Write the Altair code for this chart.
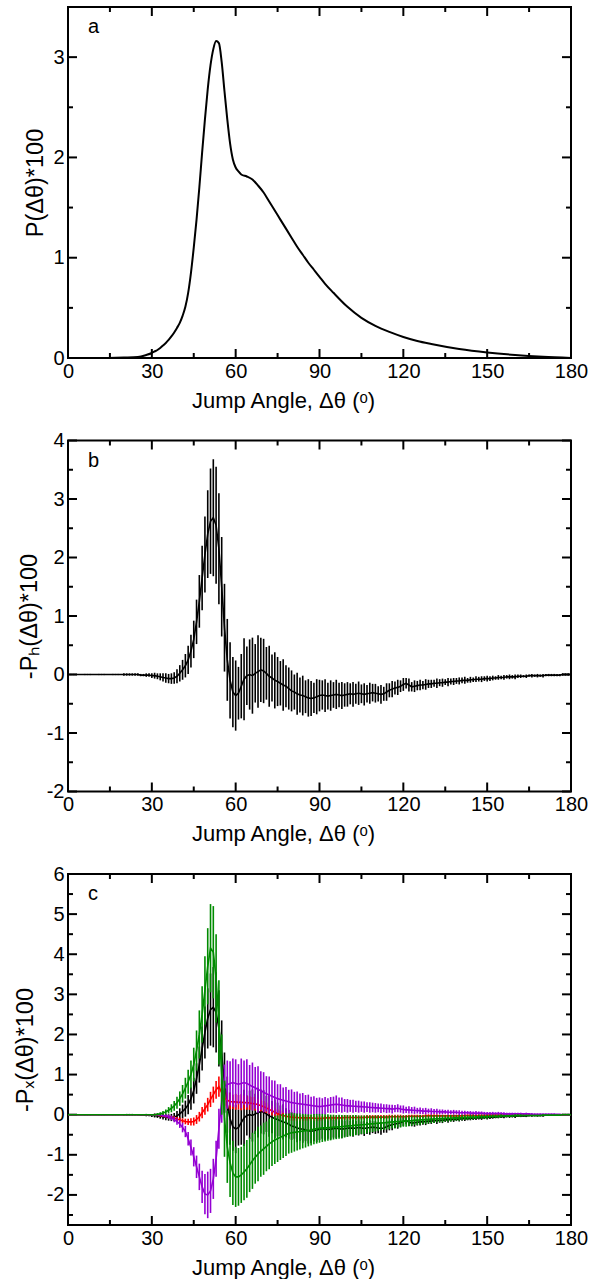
import altair as alt
import pandas as pd

# ---------------- data ----------------
ANGLES = list(range(0, 181))

# panel a: P(dtheta)*100
A_X = [0, 10, 20, 25, 28, 30, 31, 32, 33, 34, 35, 36, 37, 38, 39, 40, 41, 42, 43, 44,
       45, 46, 47, 48, 49, 50, 51, 52, 53, 54, 55, 56, 57, 58, 59, 60, 61, 62, 64, 66,
       68, 70, 72, 74, 76, 78, 80, 82, 84, 86, 88, 90, 92, 95, 100, 105, 110, 115, 120, 125,
       130, 140, 150, 160, 170, 180]
A_Y = [0, 0, 0.005, 0.01, 0.03, 0.05, 0.065, 0.08, 0.1, 0.125, 0.15, 0.18, 0.215, 0.255, 0.3, 0.35, 0.42, 0.51, 0.65, 0.85,
       1.1, 1.38, 1.7, 2.05, 2.38, 2.68, 2.92, 3.08, 3.16, 3.14, 2.95, 2.66, 2.38, 2.14, 1.98, 1.9, 1.86, 1.83, 1.81, 1.78,
       1.72, 1.65, 1.56, 1.47, 1.38, 1.29, 1.2, 1.11, 1.03, 0.95, 0.88, 0.81, 0.74, 0.65, 0.51, 0.4, 0.32, 0.26, 0.21, 0.17,
       0.14, 0.09, 0.055, 0.03, 0.012, 0.0]

# panel b (and black curve of panel c): -P_H*100, value and error half-width per degree
PH_MID = [0]*26 + [-.01, -.01, -.01, -.01,
          -.02, -.02, -.03, -.04, -.05, -.06, -.07, -.07, -.06, -.03,
          .02, .08, .15, .25, .4, .6, .9, 1.25, 1.65, 2.05,
          2.4, 2.62, 2.68, 2.55, 2.15, 1.5, .8, .25, -.1, -.3,
          -.36, -.32, -.2, -.08, -.02, 0, -.02, .02, .05, .08,
          .06, .02, -.03, -.06, -.1, -.12, -.15, -.18, -.2, -.24,
          -.28, -.3, -.33, -.35, -.36, -.38, -.4, -.41, -.4, -.38,
          -.36, -.35, -.36, -.37, -.36, -.35, -.34, -.35, -.36, -.35,
          -.34, -.33, -.34, -.33, -.32, -.33, -.34, -.33, -.32, -.31,
          -.32, -.33, -.34, -.33, -.3, -.27, -.25, -.23, -.22, -.2,
          -.17, -.15, -.18, -.21, -.2, -.19, -.18, -.18, -.17, -.16,
          -.16, -.15, -.15, -.14, -.14, -.13, -.13, -.12, -.12, -.11,
          -.11, -.1, -.1, -.1, -.09, -.09, -.08, -.08, -.08, -.07,
          -.07, -.07, -.06, -.06, -.05, -.05, -.05, -.04, -.04, -.04,
          -.04, -.03, -.03, -.03, -.03, -.02, -.02, -.02, -.02, -.02,
          -.02, -.01, -.01, -.01, -.01, -.01, -.01, 0, 0, 0,
          0]
PH_ERR = [.01]*20 + [.02, .02, .02, .02, .02, .02, .02, .02, .03, .03,
          .04, .05, .05, .06, .07, .08, .08, .09, .1, .12,
          .14, .17, .2, .24, .28, .32, .38, .45, .55, .65,
          .75, .9, 1.0, 1.0, .95, .85, .75, .7, .65, .6,
          .6, .45, .55, .7, .5, .6, .65, .5, .62, .55,
          .55, .45, .52, .4, .48, .42, .38, .44, .36, .36,
          .35, .3, .36, .3, .34, .28, .32, .3, .26, .3,
          .27, .25, .28, .23, .26, .22, .25, .21, .23, .2,
          .21, .18, .21, .17, .2, .16, .19, .15, .18, .15,
          .16, .13, .16, .12, .15, .12, .14, .11, .13, .1,
          .11, .09, .11, .08, .1, .08, .09, .07, .09, .07,
          .07, .06, .08, .06, .07, .05, .07, .05, .06, .05,
          .06, .05, .06, .04, .05, .04, .05, .04, .05, .04,
          .05, .04, .04, .03, .04, .03, .04, .03, .04, .03,
          .04, .03, .03, .02, .03, .02, .03, .02, .03, .02,
          .03, .02, .02, .02, .02, .02, .02, .02, .02, .02,
          .01]

RED_MID = [0]*32 + [-.01, -.02, -.03, -.04, -.05, -.07, -.09, -.11,
           -.13, -.15, -.17, -.18, -.18, -.17, -.12, -.05, .05, .15,
           .25, .38, .5, .62, .7, .55, .42, .36, .33, .32,
           .32, .31, .31, .3, .3, .29, .28, .27, .25, .23,
           .2, .17, .13, .1, .06, .03, 0, -.02, -.04, -.05,
           -.06, -.07, -.07, -.08, -.08, -.08, -.08, -.08, -.09, -.09,
           -.09, -.09, -.08, -.08, -.08, -.08, -.08, -.08, -.08, -.07,
           -.07, -.07, -.07, -.07, -.07, -.07, -.07, -.06, -.06, -.06,
           -.06, -.06, -.06, -.06, -.06, -.05, -.05, -.05, -.05, -.05,
           -.05, -.05, -.04, -.04, -.04, -.04, -.04, -.04, -.03, -.03,
           -.03, -.03, -.03, -.03, -.03, -.03, -.03, -.03, -.03, -.03,
           -.03, -.03, -.02, -.02, -.02, -.02, -.02, -.02, -.02, -.02,
           -.01, -.01, -.01, -.01, -.01, -.01, -.01, -.01, -.01, -.01,
           -.01, -.01, -.01, -.01, -.01, -.01, 0, 0, 0, 0,
           0, 0, 0, 0, 0, 0, 0, 0, 0, 0,
           0]
RED_ERR = [.01]*30 + [.02, .02, .02, .03, .03, .03, .04, .04, .05, .05,
           .06, .06, .07, .08, .09, .1, .11, .12, .14, .15,
           .17, .19, .2, .22, .25, .22, .2, .2, .2, .18,
           .2, .18, .2, .17, .18, .17, .16, .17, .15, .15,
           .14, .13, .12, .12, .11, .1, .1, .1, .09, .09,
           .09, .08, .08, .08, .08, .07, .07, .07, .07, .07,
           .06, .06, .06, .06, .06, .06, .06, .06, .06, .06,
           .06, .06, .05, .05, .05, .05, .05, .05, .05, .05,
           .05, .05, .05, .05, .05, .05, .05, .05, .05, .05,
           .04, .04, .04, .04, .04, .04, .04, .04, .04, .04,
           .04, .04, .04, .03, .03, .03, .03, .03, .03, .03,
           .03, .03, .03, .03, .03, .03, .03, .03, .03, .03,
           .02, .02, .02, .02, .02, .02, .02, .02, .02, .02,
           .02, .02, .02, .02, .02, .02, .02, .02, .02, .02,
           .01, .01, .01, .01, .01, .01, .01, .01, .01, .01,
           .01]

PUR_MID = [0]*33 + [-.01, -.02, -.03, -.05, -.08, -.12, -.17,
           -.23, -.32, -.42, -.6, -.82, -1.05, -1.3, -1.55, -1.8, -1.98,
           -2.0, -1.9, -1.6, -1.1, -.35, .35, .65, .75, .78, .8,
           .78, .76, .78, .8, .78, .74, .7, .67, .63, .6,
           .56, .52, .49, .46, .43, .4, .38, .36, .34, .32,
           .3, .29, .28, .27, .26, .25, .24, .23, .22, .21,
           .2, .21, .22, .23, .24, .25, .26, .25, .24, .23,
           .22, .22, .21, .21, .2, .2, .19, .19, .18, .18,
           .17, .17, .16, .16, .15, .15, .14, .15, .16, .14,
           .13, .12, .12, .11, .11, .1, .1, .09, .09, .09,
           .08, .08, .08, .07, .07, .07, .06, .06, .06, .06,
           .05, .05, .05, .05, .04, .04, .04, .04, .04, .03,
           .03, .03, .03, .03, .03, .03, .02, .02, .02, .02,
           .02, .02, .02, .02, .02, .02, .01, .01, .01, .01,
           .01, .01, .01, .01, .01, .01, .01, 0, 0, 0,
           0]
PUR_ERR = [.01]*30 + [.02, .02, .02, .03, .03, .04, .05, .06, .07, .08,
           .1, .12, .14, .17, .2, .24, .28, .33, .4, .5,
           .58, .55, .5, .45, .5, .55, .6, .6, .55, .6,
           .6, .5, .62, .55, .6, .5, .6, .52, .58, .48,
           .5, .44, .46, .4, .42, .36, .38, .32, .35, .3,
           .33, .28, .3, .26, .28, .24, .26, .22, .24, .21,
           .23, .2, .22, .18, .2, .2, .22, .18, .19, .16,
           .17, .15, .16, .14, .15, .13, .14, .12, .13, .12,
           .12, .11, .12, .1, .11, .1, .11, .09, .1, .09,
           .1, .08, .09, .08, .09, .07, .08, .07, .08, .06,
           .08, .06, .07, .06, .06, .05, .06, .05, .06, .05,
           .06, .05, .05, .04, .05, .04, .05, .04, .04, .04,
           .04, .04, .04, .03, .04, .03, .04, .03, .03, .03,
           .03, .03, .03, .02, .03, .02, .03, .02, .02, .02,
           .02, .02, .02, .02, .02, .01, .01, .01, .01, .01,
           .01]

GRN_MID = [0]*32 + [.01, .02, .04, .07, .11, .16, .22, .3,
           .4, .52, .66, .82, 1.0, 1.25, 1.6, 2.0, 2.5, 3.1,
           3.7, 4.15, 4.05, 3.4, 2.3, 1.0, -.1, -.8, -1.2, -1.45,
           -1.55, -1.55, -1.5, -1.43, -1.35, -1.25, -1.15, -1.06, -.98, -.91,
           -.85, -.79, -.73, -.68, -.63, -.6, -.56, -.53, -.5, -.47,
           -.45, -.44, -.43, -.42, -.41, -.4, -.39, -.38, -.36, -.35,
           -.34, -.33, -.33, -.32, -.32, -.31, -.31, -.3, -.3, -.29,
           -.28, -.28, -.27, -.26, -.26, -.25, -.25, -.24, -.23, -.23,
           -.22, -.21, -.21, -.2, -.2, -.19, -.18, -.18, -.17, -.17,
           -.16, -.16, -.15, -.15, -.14, -.14, -.13, -.13, -.12, -.12,
           -.11, -.11, -.1, -.1, -.1, -.09, -.09, -.09, -.08, -.08,
           -.08, -.07, -.07, -.07, -.06, -.06, -.06, -.05, -.05, -.05,
           -.05, -.04, -.04, -.04, -.04, -.03, -.03, -.03, -.03, -.03,
           -.02, -.02, -.02, -.02, -.02, -.02, -.02, -.02, -.02, -.02,
           -.01, -.01, -.01, -.01, -.01, -.01, -.01, 0, 0, 0,
           0]
GRN_ERR = [.01]*30 + [.02, .02, .03, .04, .05, .06, .08, .1, .12, .15,
           .18, .22, .26, .3, .35, .42, .5, .6, .7, .85,
           .95, 1.1, 1.15, 1.1, 1.05, 1.0, .95, .9, .85, .8,
           .75, .72, .7, .7, .72, .68, .7, .66, .68, .64,
           .65, .62, .63, .6, .6, .58, .57, .55, .53, .5,
           .5, .48, .46, .45, .43, .42, .4, .39, .38, .37,
           .36, .35, .34, .33, .32, .31, .3, .3, .29, .28,
           .27, .26, .26, .25, .24, .23, .23, .22, .21, .2,
           .2, .19, .18, .18, .17, .17, .16, .16, .15, .15,
           .14, .14, .13, .13, .12, .12, .12, .11, .11, .1,
           .1, .1, .09, .09, .09, .08, .08, .08, .07, .07,
           .07, .07, .06, .06, .06, .06, .05, .05, .05, .05,
           .05, .04, .04, .04, .04, .04, .03, .03, .03, .03,
           .03, .03, .03, .02, .02, .02, .02, .02, .02, .02,
           .02, .01, .01, .01, .01, .01, .01, .01, .01, .01,
           .01]

X_MAJOR = [0, 30, 60, 90, 120, 150, 180]
X_MINOR = [15, 45, 75, 105, 135, 165]
X_TITLE = "Jump Angle, Δθ (ᵒ)"

# ---------------- styling ----------------
W, H = 503, 351
FONT = "Liberation Sans"
MAJ, MIN = 9, 5
COLORS = {"black": "#000000", "red": "#ff0000", "purple": "#9400d3", "green": "#008b00"}

XSC = alt.Scale(domain=[0, 180], nice=False, zero=False)
XAXIS = alt.Axis(values=X_MAJOR, ticks=False, domain=False, grid=False,
                 labelFont=FONT, labelFontSize=20, labelColor="black", labelPadding=3,
                 labelFlush=False, labelOverlap=False,
                 title=X_TITLE, titleFont=FONT, titleFontSize=22, titleFontWeight="normal",
                 titleColor="black", titleX=215, titleY=49, titleAlign="center",
                 titleBaseline="alphabetic")


def make_yaxis(ymaj, ytitle, ytitle_x):
    return alt.Axis(values=ymaj, ticks=False, domain=False, grid=False,
                    labelFont=FONT, labelFontSize=20, labelColor="black", labelPadding=4,
                    labelFlush=False, labelOverlap=False, labelExpr="'' + datum.value",
                    title=ytitle, titleFont=FONT, titleFontSize=23.5, titleFontWeight="normal",
                    titleColor="black", titleAngle=270, titleX=ytitle_x, titleY=H / 2,
                    titleAlign="center", titleBaseline="alphabetic")


def series_df(mid, err):
    return pd.DataFrame({
        "x": ANGLES,
        "y": mid,
        "lo": [m - e for m, e in zip(mid, err)],
        "hi": [m + e for m, e in zip(mid, err)],
    })


def frame_layers(ysc, yaxis, ymaj, ymin):
    out = []
    xm = pd.DataFrame({"v": X_MAJOR})
    xn = pd.DataFrame({"v": X_MINOR})
    ym = pd.DataFrame({"v": ymaj})
    yn = pd.DataFrame({"v": ymin})
    rule = dict(color="black", strokeWidth=2)
    X = lambda: alt.X("v:Q", scale=XSC, axis=XAXIS)
    Y = lambda: alt.Y("v:Q", scale=ysc, axis=yaxis)
    out.append(alt.Chart(xm).mark_rule(**rule).encode(x=X(), y=alt.value(H), y2=alt.value(H - MAJ)))
    out.append(alt.Chart(xn).mark_rule(**rule).encode(x=X(), y=alt.value(H), y2=alt.value(H - MIN)))
    out.append(alt.Chart(xm).mark_rule(**rule).encode(x=X(), y=alt.value(0), y2=alt.value(MAJ)))
    out.append(alt.Chart(xn).mark_rule(**rule).encode(x=X(), y=alt.value(0), y2=alt.value(MIN)))
    out.append(alt.Chart(ym).mark_rule(**rule).encode(y=Y(), x=alt.value(0), x2=alt.value(MAJ)))
    out.append(alt.Chart(yn).mark_rule(**rule).encode(y=Y(), x=alt.value(0), x2=alt.value(MIN)))
    out.append(alt.Chart(ym).mark_rule(**rule).encode(y=Y(), x=alt.value(W), x2=alt.value(W - MAJ)))
    out.append(alt.Chart(yn).mark_rule(**rule).encode(y=Y(), x=alt.value(W), x2=alt.value(W - MIN)))
    return out


def letter(t):
    return alt.Chart(pd.DataFrame({"t": [t]})).mark_text(
        font=FONT, fontSize=20, align="left", baseline="alphabetic", color="black"
    ).encode(text="t:N", x=alt.value(20), y=alt.value(26))


def err_layers(df, color, ysc, yaxis):
    bars = alt.Chart(df).mark_rule(color=color, strokeWidth=1.6, clip=True).encode(
        x=alt.X("x:Q", scale=XSC, axis=XAXIS),
        y=alt.Y("lo:Q", scale=ysc, axis=yaxis), y2="hi:Q")
    line = alt.Chart(df).mark_line(color=color, strokeWidth=1.6, clip=True).encode(
        x=alt.X("x:Q", scale=XSC, axis=XAXIS),
        y=alt.Y("y:Q", scale=ysc, axis=yaxis))
    return [bars, line]


# ---------------- panel a ----------------
ysa = alt.Scale(domain=[0, 3.5], nice=False, zero=False)
yaa = make_yaxis([0, 1, 2, 3], "P(Δθ)*100", -26)
dfa = pd.DataFrame({"x": A_X, "y": A_Y})
line_a = alt.Chart(dfa).mark_line(color="black", strokeWidth=2, interpolate="monotone", clip=True).encode(
    x=alt.X("x:Q", scale=XSC, axis=XAXIS), y=alt.Y("y:Q", scale=ysa, axis=yaa))
pa = alt.layer(*frame_layers(ysa, yaa, [0, 1, 2, 3], [0.5, 1.5, 2.5]), line_a,
               letter("a")).properties(width=W, height=H)

# ---------------- panel b ----------------
ysb = alt.Scale(domain=[-2, 4], nice=False, zero=False)
ymb = [-2, -1, 0, 1, 2, 3, 4]
yab = make_yaxis(ymb, "-Pₕ(Δθ)*100", -32)
pb = alt.layer(*frame_layers(ysb, yab, ymb, [-1.5, -0.5, 0.5, 1.5, 2.5, 3.5]),
               *err_layers(series_df(PH_MID, PH_ERR), COLORS["black"], ysb, yab),
               letter("b")).properties(width=W, height=H)

# ---------------- panel c ----------------
ysc = alt.Scale(domain=[-2.75, 6], nice=False, zero=False)
ymc = [-2, -1, 0, 1, 2, 3, 4, 5, 6]
yac = make_yaxis(ymc, "-Pₓ(Δθ)*100", -36)
layers_c = []
for mid, err, col in [(PH_MID, PH_ERR, "black"), (RED_MID, RED_ERR, "red"),
                      (PUR_MID, PUR_ERR, "purple"), (GRN_MID, GRN_ERR, "green")]:
    layers_c += err_layers(series_df(mid, err), COLORS[col], ysc, yac)
pc = alt.layer(*frame_layers(ysc, yac, ymc, [-2.5, -1.5, -0.5, 0.5, 1.5, 2.5, 3.5, 4.5, 5.5]),
               *layers_c,
               letter("c")).properties(width=W, height=H)

chart = alt.vconcat(pa, pb, pc, spacing=17.5).properties(
    padding={"left": 12, "top": 5, "right": 0, "bottom": 0},
    background="white",
).configure_view(stroke="black", strokeWidth=2)

chart.save("out.html", embed_options={"renderer": "svg", "actions": False})
